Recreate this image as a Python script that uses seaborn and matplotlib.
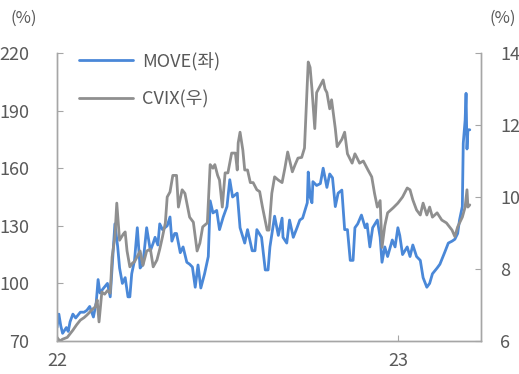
import numpy as np
import pandas as pd
import matplotlib
matplotlib.use("Agg")
import matplotlib.pyplot as plt
import seaborn as sns

# ---------------- data ----------------
move_days = [0, 2, 4, 6, 10, 12, 14, 17, 20, 25, 29, 32, 35, 39, 42, 44, 46, 49, 54, 57,
             60, 62, 65, 67, 70, 73, 76, 78, 80, 83, 86, 89, 92, 96, 100, 103, 105, 108, 110, 113,
             118, 121, 123, 126, 128, 132, 135, 139, 142, 145, 148, 151, 154, 158, 162, 164, 167, 171, 174, 178,
             182, 185, 188, 193, 196, 201, 204, 209, 212, 214, 219, 223, 226, 228, 233, 237, 241, 242, 246, 249,
             253, 257, 260, 263, 268, 269, 271, 273, 274, 278, 282, 285, 289, 292, 295, 298, 301, 305, 308, 311,
             314, 317, 319, 322, 326, 330, 332, 335, 338, 343, 346, 348, 351, 354, 359, 362, 365, 367, 370, 375,
             378, 381, 385, 389, 392, 396, 399, 402, 407, 410, 415, 419, 423, 426, 429, 431, 434, 435, 437, 438,
             439, 440, 442]
move_vals = [77, 84, 78, 74, 77, 75, 80, 84, 82, 85, 85, 86, 88, 82.5, 90, 102, 95, 97, 100, 93,
             116, 131, 119, 108, 100, 103, 93, 93, 105, 112, 129, 108, 110, 129, 117, 121, 124, 120, 131, 128,
             130, 134.6, 122, 126, 126, 116, 119, 111, 110, 108.5, 98, 109.6, 97.6, 105, 114, 143, 136.7, 138, 128, 134.6,
             140, 154, 145, 147, 129, 121, 128, 117, 117, 128, 124, 107, 107, 119, 135, 125, 134, 124, 121, 133,
             124, 129, 133, 134, 142, 158, 145, 142, 153, 151, 152, 160, 150, 157, 155, 140, 147, 148.6, 128, 128,
             112, 112, 129, 131, 135.6, 129, 131, 119, 129, 133, 124, 111, 119, 114, 122.6, 119, 129, 125, 115, 119,
             114, 120, 114, 112, 103, 98, 100, 105, 108, 110, 116, 121, 122, 123, 126, 133, 140, 173, 185, 199,
             170, 180, 180]

cvix_days = [0, 3, 6, 11, 14, 17, 21, 25, 29, 32, 35, 37, 41, 43, 45, 48, 51, 54, 57, 59,
             62, 64, 67, 71, 73, 75, 78, 81, 83, 89, 92, 96, 100, 103, 107, 110, 113, 116, 118, 121,
             124, 128, 130, 134, 137, 139, 142, 146, 150, 153, 156, 161, 164, 167, 169, 172, 174, 177, 180, 183,
             187, 191, 193, 194, 196, 199, 201, 204, 207, 210, 214, 217, 220, 225, 227, 230, 233, 237, 241, 244,
             247, 252, 255, 258, 262, 265, 268, 269, 271, 273, 276, 278, 282, 285, 287, 289, 292, 294, 298, 300,
             305, 308, 311, 316, 319, 321, 324, 328, 333, 337, 340, 343, 346, 348, 351, 354, 360, 365, 370, 375,
             378, 381, 385, 389, 392, 396, 399, 402, 407, 412, 417, 423, 426, 429, 434, 437, 439, 440, 442]
cvix_vals = [6.1, 6.0, 6.05, 6.1, 6.2, 6.3, 6.45, 6.58, 6.65, 6.72, 6.8, 6.86, 6.95, 7.14, 6.53, 7.36, 7.3, 7.4, 7.33, 8.33,
             8.9, 9.83, 8.8, 8.97, 9.03, 8.5, 8.06, 8.17, 8.2, 8.5, 8.1, 8.5, 8.55, 8.06, 8.25, 8.55, 8.9, 9.28, 10.0, 10.14,
             10.6, 10.6, 9.72, 10.2, 10.1, 9.83, 9.44, 9.3, 8.5, 8.72, 9.17, 9.28, 10.9, 10.8, 10.9, 10.6, 10.47, 9.72, 10.67, 10.67,
             11.22, 11.22, 10.75, 11.5, 11.8, 11.3, 10.75, 10.75, 10.4, 10.4, 10.2, 10.15, 9.72, 9.08, 9.08, 10.1, 10.56, 10.47, 10.4, 10.8,
             11.25, 10.7, 10.9, 11.08, 11.1, 11.36, 13.2, 13.75, 13.6, 13.0, 11.9, 12.9, 13.1, 13.25, 13.0, 12.9, 12.45, 12.7, 11.9, 11.4,
             11.6, 11.8, 11.2, 10.94, 11.2, 11.1, 10.94, 11.0, 10.75, 10.56, 10.1, 9.72, 9.9, 8.6, 9.2, 9.56, 9.7, 9.83, 10.0, 10.25,
             10.2, 9.92, 9.64, 9.5, 9.83, 9.5, 9.72, 9.44, 9.56, 9.36, 9.28, 9.08, 8.9, 9.17, 9.44, 9.72, 10.2, 9.72, 9.78]

left_ticks = [70, 100, 130, 160, 190, 220]
right_ticks = [6, 8, 10, 12, 14]
x_tick_dates = ["2022-01-01", "2023-01-01"]
x_tick_labels = ["22", "23"]
series_names = ["MOVE(좌)", "CVIX(우)"]

# ---------------- build ----------------
base = pd.Timestamp("2022-01-01")
df_move = pd.DataFrame({"date": base + pd.to_timedelta(move_days, unit="D"), "value": move_vals})
df_cvix = pd.DataFrame({"date": base + pd.to_timedelta(cvix_days, unit="D"), "value": cvix_vals})

sns.set_style("white")
plt.rcParams["font.family"] = ["Noto Sans CJK KR", "DejaVu Sans"]
plt.rcParams["font.weight"] = "light"

BLUE = "#4a88d8"
GRAY = "#8f8f8f"
TXT = "#595959"
SPINE = "#a6a6a6"

fig = plt.figure(figsize=(5.19, 3.74), dpi=100)
ax = fig.add_axes([57 / 519, 1 - 341 / 374, 424 / 519, 288 / 374])
ax2 = ax.twinx()

sns.lineplot(data=df_move, x="date", y="value", ax=ax, color=BLUE, lw=2.0, label=series_names[0], legend=False)
sns.lineplot(data=df_cvix, x="date", y="value", ax=ax2, color=GRAY, lw=2.0, label=series_names[1], legend=False)

ax.set_xlim(pd.Timestamp("2022-01-01"), pd.Timestamp("2023-03-31"))
ax.set_ylim(70, 220)
ax2.set_ylim(6, 14)
ax.set_yticks(left_ticks)
ax2.set_yticks(right_ticks)
ax.set_xticks(pd.to_datetime(x_tick_dates))
ax.set_xticklabels(x_tick_labels)
ax.set_xlabel("")
ax.set_ylabel("")
ax2.set_ylabel("")

for a in (ax, ax2):
    a.spines["top"].set_visible(False)
    for s in ("left", "right", "bottom"):
        a.spines[s].set_color(SPINE)
        a.spines[s].set_linewidth(1.0)
    a.grid(False)

ax.tick_params(axis="y", direction="in", length=4, color=SPINE, labelsize=13, labelcolor=TXT, pad=20, left=True)
ax.tick_params(axis="x", direction="in", length=4, color=SPINE, labelsize=13, labelcolor=TXT, pad=8, bottom=True)
ax2.tick_params(axis="y", direction="in", length=4, color=SPINE, labelsize=13, labelcolor=TXT, pad=14, right=True)

fig.text(10 / 519, 1 - 18 / 374, "(%)", fontsize=12, color=TXT, va="center", ha="left")
fig.text(516 / 519, 1 - 18 / 374, "(%)", fontsize=12, color=TXT, va="center", ha="right")

h1, l1 = ax.get_legend_handles_labels()
h2, l2 = ax2.get_legend_handles_labels()
leg = ax2.legend(h1 + h2, l1 + l2, loc="upper left", bbox_to_anchor=(0.035, 1.03),
                 frameon=False, fontsize=13, handlelength=3.0, handletextpad=0.5,
                 labelspacing=1.1, borderaxespad=0)
for t in leg.get_texts():
    t.set_color(TXT)

fig.savefig("out.png", dpi=100)
